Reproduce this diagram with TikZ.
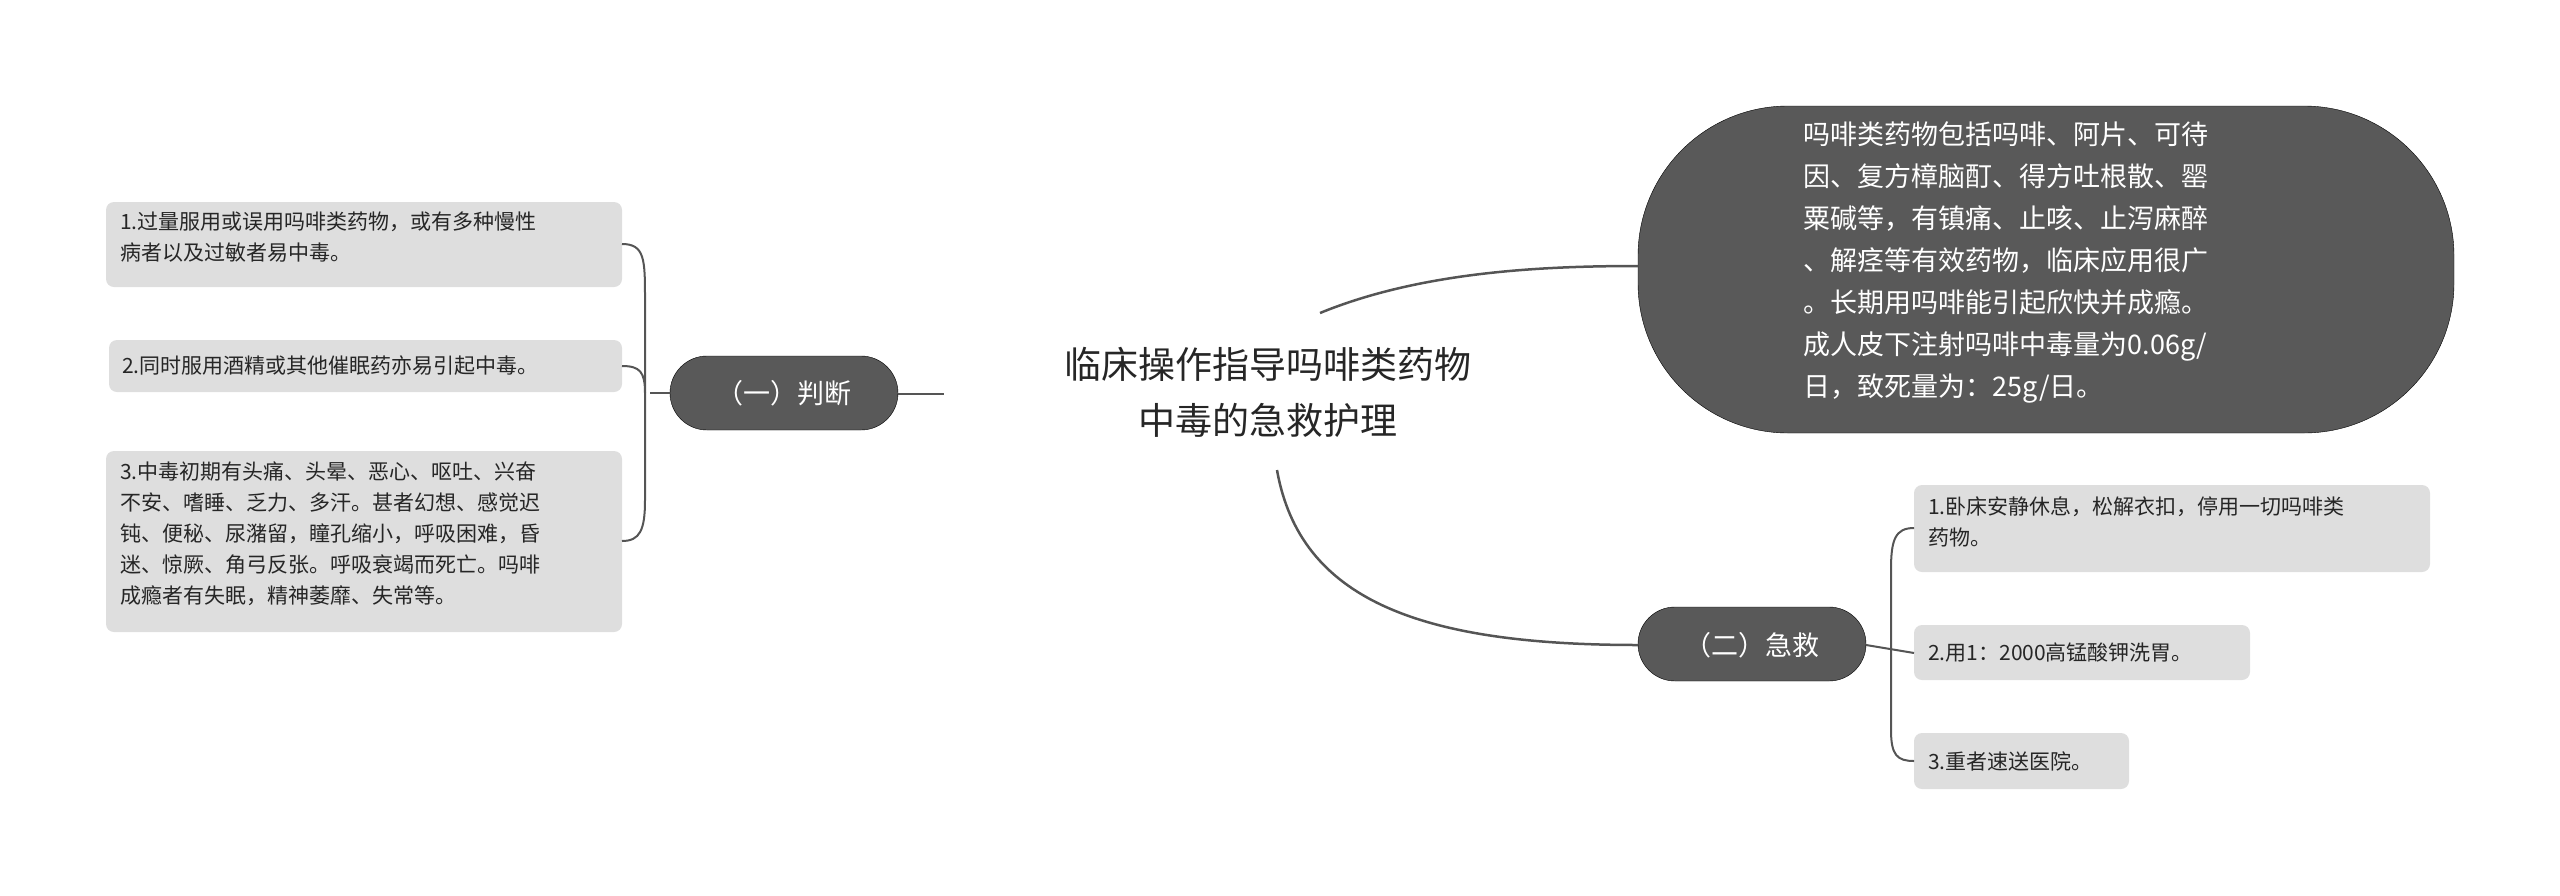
\documentclass[tikz,border=0pt]{standalone}
\usepackage{fontspec}
\setmainfont{Noto Sans CJK SC}
\begin{document}
\begin{tikzpicture}[x=1pt,y=-1pt,
  leaf/.style={fill=leafc,rounded corners=8pt,inner sep=0pt,anchor=north west,font=\fontsize{21}{31}\selectfont,text=black!85},
  dark/.style={fill=darkc,text=white,rounded corners=37pt},
  conn/.style={draw=linec,line width=2.5pt}]
\definecolor{leafc}{HTML}{DEDEDE}
\definecolor{darkc}{HTML}{595959}
\definecolor{linec}{HTML}{555555}
\useasboundingbox (0,0) rectangle (2560,895);
% title
\node[font=\fontsize{37}{56}\selectfont,align=center,text=black!85] (title) at (1268,392) {临床操作指导吗啡类药物\\中毒的急救护理};
\coordinate (tA) at (1320,313);
\coordinate (tB) at (1277,470);
\coordinate (tL) at (944,394);
% left branch
\draw[dark] (670,356) rectangle (898,430);
\node[text=white,font=\fontsize{27}{30}\selectfont] (b1) at (784,393) {（一）判断};
\draw[conn] (898,394) -- (tL);
% left leaves
\fill[leafc,rounded corners=8pt] (106,202) rectangle (622,287);
\node[leaf,fill=none,align=left] (l1) at (120,212) {1.过量服用或误用吗啡类药物，或有多种慢性\\病者以及过敏者易中毒。};
\fill[leafc,rounded corners=8pt] (109,340) rectangle (622,392);
\node[leaf,fill=none,anchor=west] (l2) at (122,366) {2.同时服用酒精或其他催眠药亦易引起中毒。};
\fill[leafc,rounded corners=8pt] (106,451) rectangle (622,632);
\node[leaf,fill=none,align=left] (l3) at (120,462) {3.中毒初期有头痛、头晕、恶心、呕吐、兴奋\\不安、嗜睡、乏力、多汗。甚者幻想、感觉迟\\钝、便秘、尿潴留，瞳孔缩小，呼吸困难，昏\\迷、惊厥、角弓反张。呼吸衰竭而死亡。吗啡\\成瘾者有失眠，精神萎靡、失常等。};
\coordinate (p1) at (622,244);
\coordinate (p2) at (622,366);
\coordinate (p3) at (622,541);
\draw[conn,line width=2pt] (670,393) -- (650,393);
\draw[conn,line width=2pt] (p1) .. controls (645,244) and (645,260) .. (645,300) -- (645,500) .. controls (645,530) and (640,541) .. (p3);
\draw[conn,line width=2pt] (p2) .. controls (640,366) and (645,372) .. (645,393);
% right dark node
\draw[dark,rounded corners=150pt] (1638,106) rectangle (2454,433);
\node[text=white,font=\fontsize{27}{42}\selectfont,align=left,anchor=north west] (d) at (1800,118) {吗啡类药物包括吗啡、阿片、可待\\因、复方樟脑酊、得方吐根散、罂\\粟碱等，有镇痛、止咳、止泻麻醉\\、解痉等有效药物，临床应用很广\\。长期用吗啡能引起欣快并成瘾。\\成人皮下注射吗啡中毒量为0.06g/\\日，致死量为：25g/日。};
\coordinate (dL) at (1638,266);
\draw[conn] (tA) .. controls (1420,272) and (1540,266) .. (dL);
% right branch
\draw[dark] (1638,607) rectangle (1866,681);
\node[text=white,font=\fontsize{27}{30}\selectfont] (b2) at (1752,645) {（二）急救};
\coordinate (b2L) at (1638,645);
\draw[conn] (tB) .. controls (1300,600) and (1420,645) .. (b2L);
% right leaves
\fill[leafc,rounded corners=8pt] (1914,485) rectangle (2430,572);
\node[leaf,fill=none,align=left] (r1) at (1928,496) {1.卧床安静休息，松解衣扣，停用一切吗啡类\\药物。};
\fill[leafc,rounded corners=8pt] (1914,625) rectangle (2250,680);
\node[leaf,fill=none,anchor=west] (r2) at (1928,653) {2.用1：2000高锰酸钾洗胃。};
\fill[leafc,rounded corners=8pt] (1914,733) rectangle (2129,789);
\node[leaf,fill=none,anchor=west] (r3) at (1928,761) {3.重者速送医院。};
\draw[conn,line width=2pt] (1866,645) -- (1914,653);
\draw[conn,line width=2pt] (1914,528) .. controls (1895,528) and (1891,540) .. (1891,570) -- (1891,730) .. controls (1891,755) and (1897,761) .. (1914,761);
\end{tikzpicture}
\end{document}
